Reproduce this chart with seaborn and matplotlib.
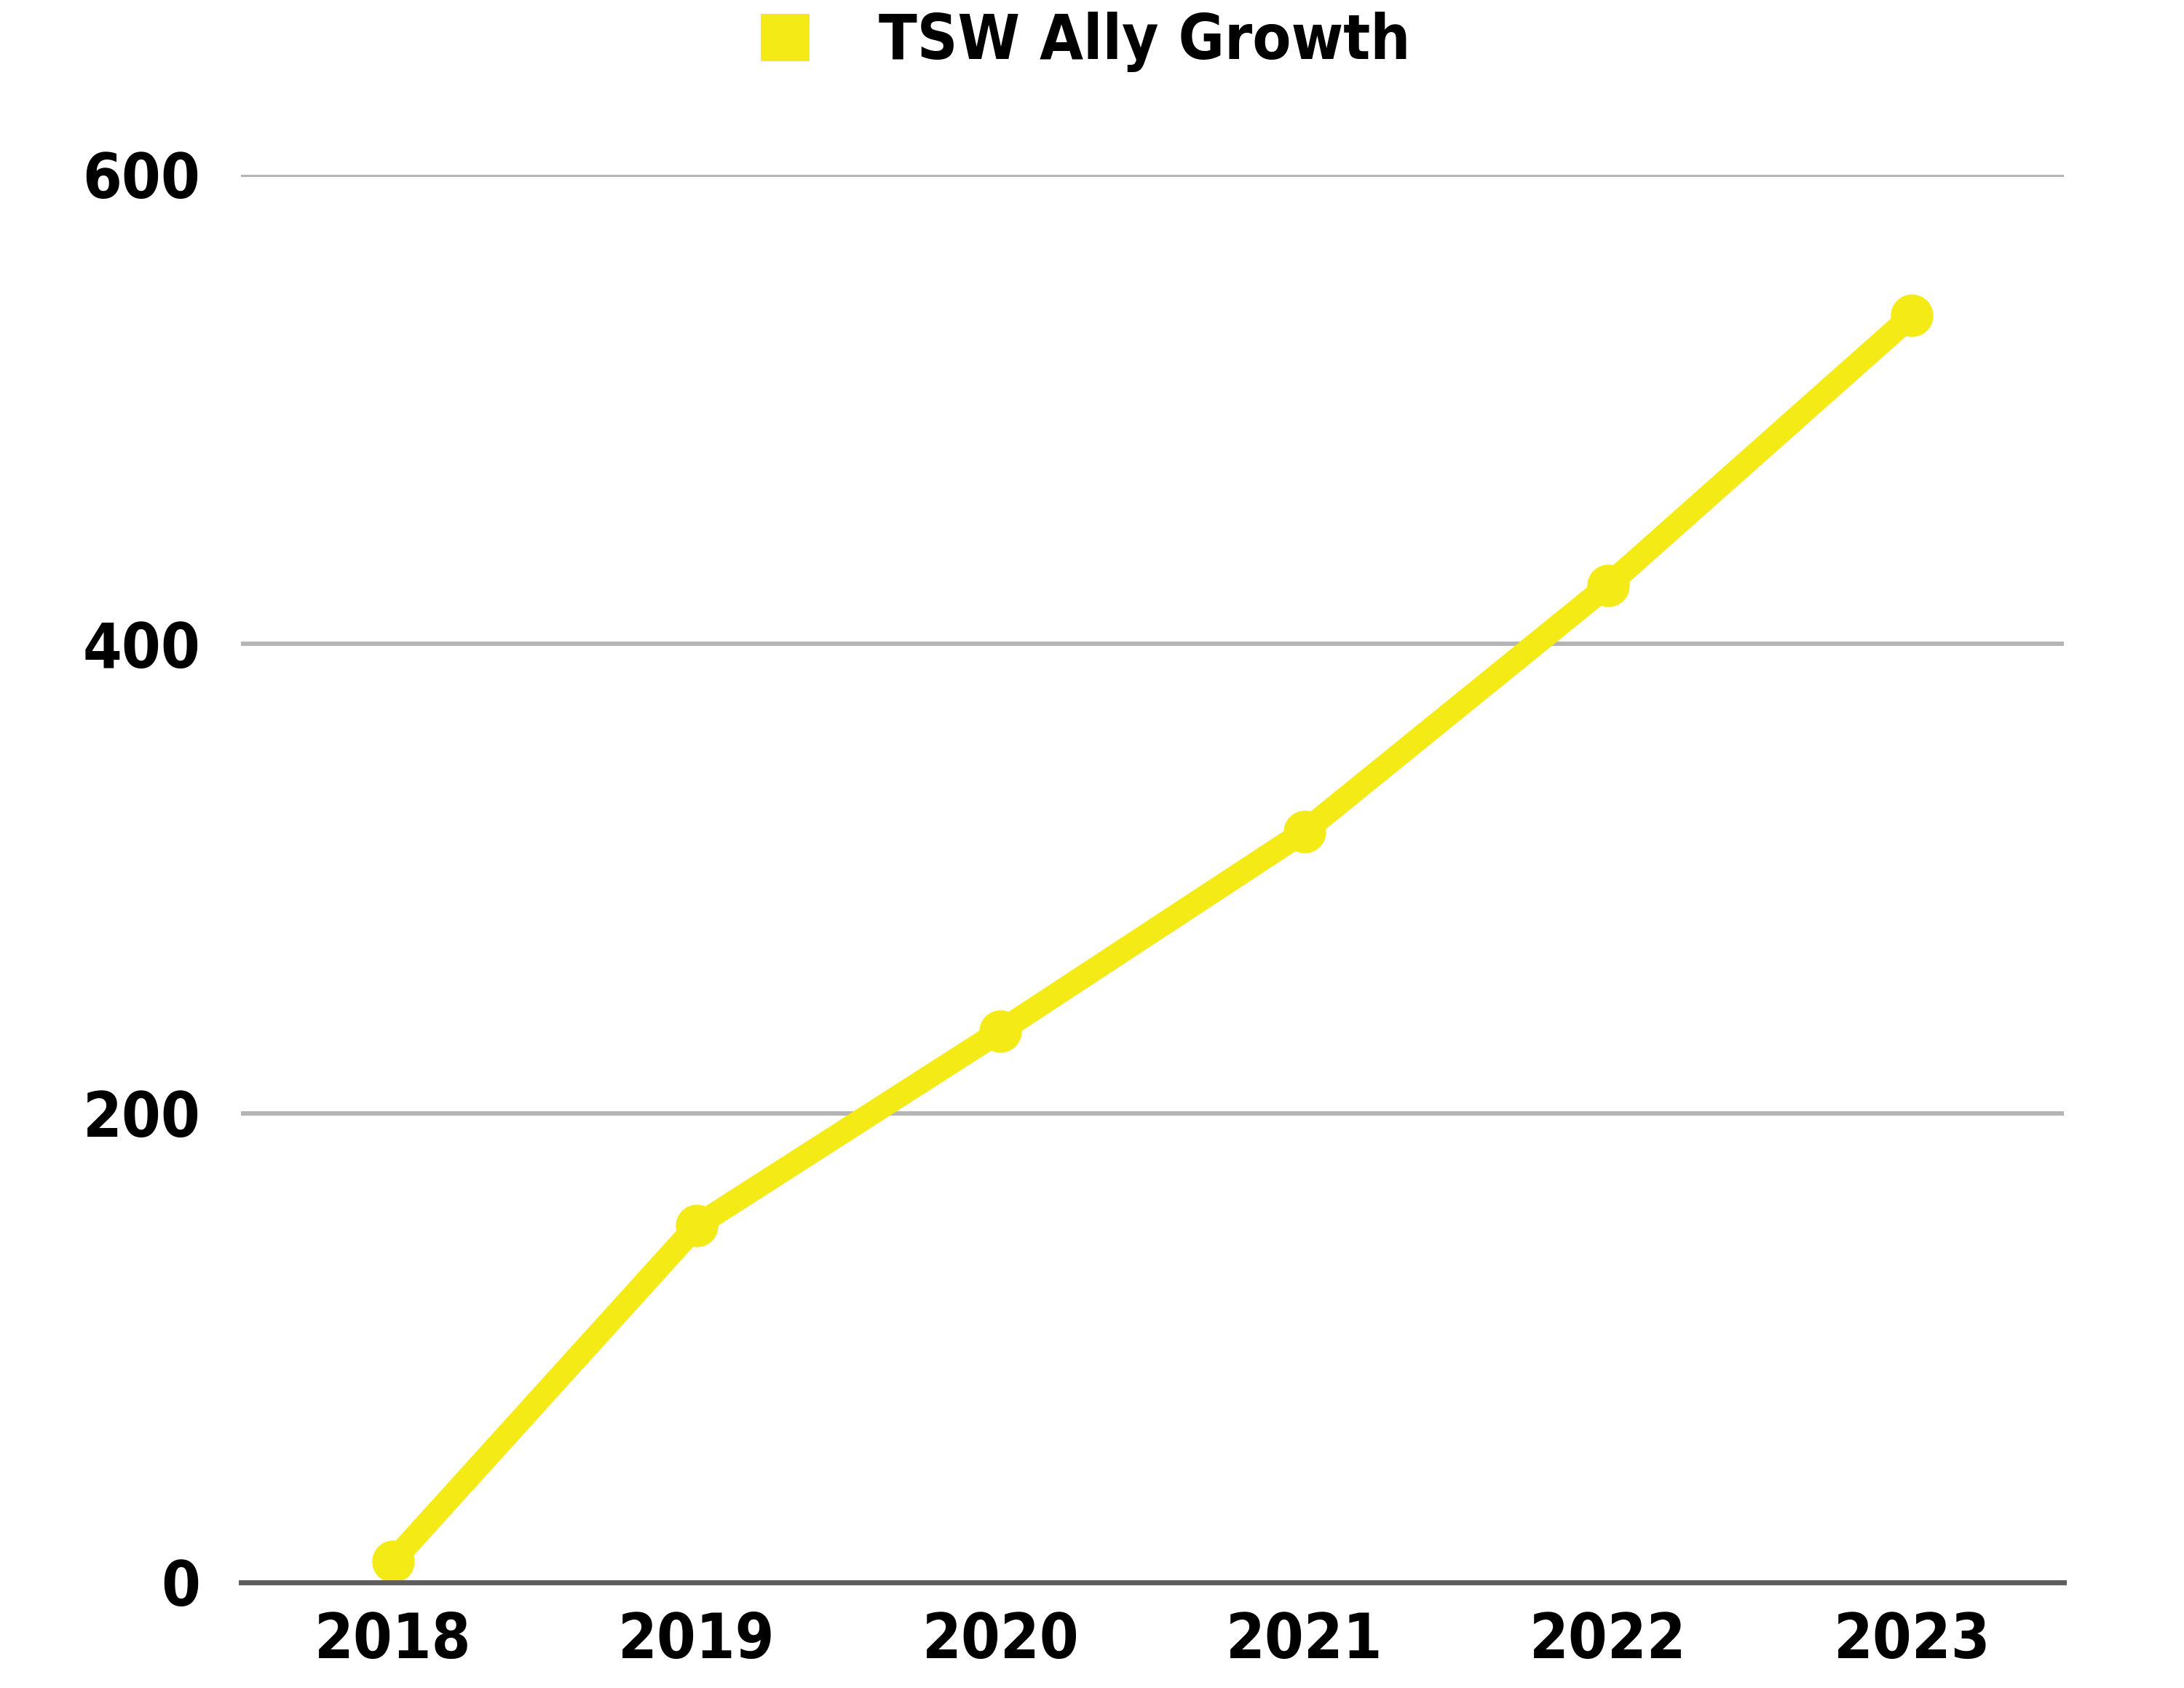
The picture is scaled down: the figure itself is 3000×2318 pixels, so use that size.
import pandas as pd
import matplotlib.pyplot as plt
import seaborn as sns
from matplotlib.patches import Patch

# data
years = [2018, 2019, 2020, 2021, 2022, 2023]
allies = [9, 152, 235, 320, 425, 540]
series_name = 'TSW Ally Growth'

df = pd.DataFrame({'year': years, 'allies': allies})

yellow = '#F4EB16'

sns.set_style('white')
plt.rcParams['font.family'] = ['DejaVu Sans']
plt.rcParams['font.stretch'] = 'condensed'
plt.rcParams['font.weight'] = 'bold'
plt.rcParams['text.color'] = 'black'
plt.rcParams['xtick.color'] = 'black'
plt.rcParams['ytick.color'] = 'black'

fig = plt.figure(figsize=(30, 23.18), dpi=100)
ax = fig.add_axes([0.1103, 0.0626, 0.8347, 0.8339])

sns.lineplot(data=df, x='year', y='allies', ax=ax, color=yellow, linewidth=23,
             marker='o', markersize=42, markeredgewidth=0, clip_on=False,
             solid_capstyle='round', zorder=3)

ax.set_xlim(2017.5, 2023.5)
ax.set_ylim(0, 600)
ax.set_xticks(years)
ax.set_yticks([0, 200, 400, 600])
ax.yaxis.grid(True, color='#B5B5B5', linewidth=4.3)
ax.set_axisbelow(True)

for s in ['top', 'right', 'left']:
    ax.spines[s].set_visible(False)
ax.spines['bottom'].set_color('#5E5E5E')
ax.spines['bottom'].set_linewidth(5)
ax.spines['bottom'].set_zorder(4)

ax.tick_params(axis='both', length=0, labelsize=62, labelcolor='black')
ax.tick_params(axis='y', pad=40)
ax.tick_params(axis='x', pad=28)
for lab in ax.get_xticklabels() + ax.get_yticklabels():
    lab.set_fontweight('bold')
    lab.set_fontstretch('condensed')
ax.set_xlabel('')
ax.set_ylabel('')

handle = Patch(facecolor=yellow, edgecolor='none')
fig.legend([handle], [series_name], loc='center', bbox_to_anchor=(0.497, 0.975),
           frameon=False, prop={'size': 62, 'weight': 'bold', 'stretch': 'condensed'},
           handlelength=0.78, handleheight=0.78, handletextpad=1.1)
if ax.get_legend():
    ax.get_legend().remove()

fig.savefig('out.png', dpi=100, facecolor='white')
